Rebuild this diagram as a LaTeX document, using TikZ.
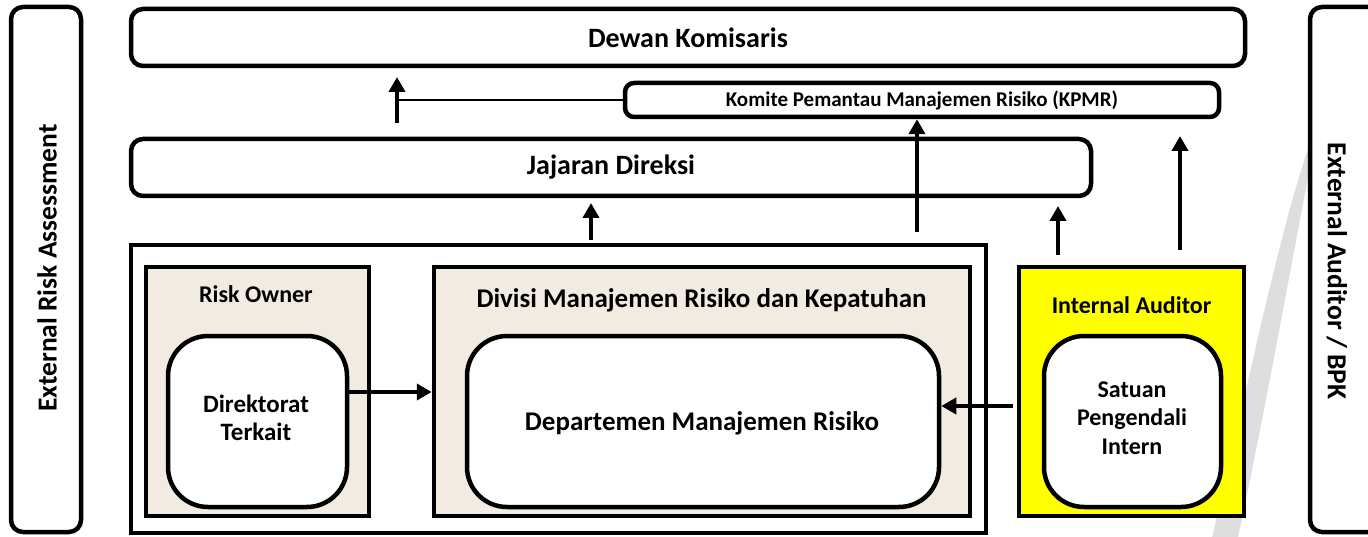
\documentclass[tikz,border=0pt]{standalone}
\usepackage{fontspec}
\setmainfont{Carlito}
\usetikzlibrary{arrows.meta}

\definecolor{beige}{HTML}{F2EBE1}
\definecolor{auditorfill}{HTML}{FFFF00}
\definecolor{wmark}{HTML}{DEDEDE}

\tikzset{
  roundbox/.style={draw, line width=4.5pt, fill=white, rounded corners=12pt, inner sep=0pt},
  plainbox/.style={draw, line width=4pt, fill=white, inner sep=0pt},
  groupbox/.style={draw, line width=4.5pt, fill=beige, inner sep=0pt},
  unitbox/.style={draw, line width=4.5pt, fill=white, rounded corners=40pt, inner sep=0pt, align=center},
  toptxt/.style={font=\fontsize{28}{30}\selectfont\bfseries},
  bigtxt/.style={font=\fontsize{27}{29}\selectfont\bfseries},
  sidetxt/.style={font=\fontsize{27.5}{29}\selectfont\bfseries},
  midtxt/.style={font=\fontsize{24}{28.5}\selectfont\bfseries, align=center},
  unittxt/.style={font=\fontsize{25}{28}\selectfont\bfseries, align=center},
  smalltxt/.style={font=\fontsize{21}{23}\selectfont\bfseries},
  flow/.style={line width=4.5pt, -{Triangle[length=15pt, width=16pt]}},
  link/.style={line width=1.5pt},
}

\begin{document}
\begin{tikzpicture}[x=1pt, y=-1pt]
\useasboundingbox (0,0) rectangle (1368,537);

% faint watermark crescent in the background
\fill[wmark] (1322,110) .. controls (1300,210) and (1272,380) .. (1238,537)
  -- (1212,537) .. controls (1250,380) and (1282,210) .. (1322,110) -- cycle;

% side panels
\node[roundbox, minimum width=70pt, minimum height=525pt] (ext) at (46,269.5) {};
\node[sidetxt, rotate=90] (extlbl) at (47,268) {External Risk Assessment};
\node[roundbox, minimum width=70pt, minimum height=525pt] (bpk) at (1345,269.5) {};
\node[sidetxt, rotate=-90] (bpklbl) at (1337,271) {External Auditor / BPK};

% governance layers
\node[roundbox, minimum width=1114pt, minimum height=57pt, toptxt] (dewan) at (688,37.5) {Dewan Komisaris};
\node[roundbox, rounded corners=9pt, minimum width=594pt, minimum height=34pt, smalltxt] (kpmr) at (922,100) {Komite Pemantau Manajemen Risiko (KPMR)};
\node[roundbox, minimum width=960pt, minimum height=57pt, toptxt] (direksi) at (611,167.5) {Jajaran Direksi};

% operational block
\node[plainbox, minimum width=855pt, minimum height=288pt] (ops) at (558.5,389) {};

\node[groupbox, minimum width=223pt, minimum height=249pt] (owner) at (257.5,391.5) {};
\node[midtxt, anchor=base] (ownerlbl) at (256,302) {Risk Owner};
\node[unitbox, minimum width=179pt, minimum height=171pt] (direktorat) at (257.5,421.5) {};
\node[unittxt, anchor=base] (direktoratlbl) at (256,440) {Direktorat\\Terkait};

\node[groupbox, minimum width=536pt, minimum height=249pt] (divisi) at (702,391.5) {};
\node[bigtxt, anchor=base] (divisilbl) at (701.5,308) {Divisi Manajemen Risiko dan Kepatuhan};
\node[unitbox, minimum width=472pt, minimum height=171pt] (dept) at (703,421.5) {};
\node[bigtxt, anchor=base] (deptlbl) at (702,430) {Departemen Manajemen Risiko};

\node[groupbox, fill=auditorfill, minimum width=225pt, minimum height=249pt] (auditor) at (1131.5,391.5) {};
\node[midtxt, anchor=base] (auditorlbl) at (1131.5,313) {Internal Auditor};
\node[unitbox, minimum width=177pt, minimum height=171pt] (spi) at (1132.5,421.5) {};
\node[midtxt, anchor=base] (spilbl) at (1132,454) {Satuan\\Pengendali\\Intern};

% reporting lines
\coordinate (up1s) at (397,123);
\coordinate (up1e) at (397,77);
\draw[flow] (up1s) -- (up1e);
\draw[link] (kpmr.west) -- (kpmr.west -| up1s);

\coordinate (up2s) at (591,240);
\coordinate (up2e) at (591,203);
\draw[flow] (up2s) -- (up2e);

\coordinate (up3s) at (917,232);
\draw[flow] (up3s) -- (kpmr.south -| up3s);

\coordinate (up4s) at (1058,255);
\coordinate (up4e) at (1058,206);
\draw[flow] (up4s) -- (up4e);

\coordinate (up5s) at (1180,250);
\coordinate (up5e) at (1180,136);
\draw[flow] (up5s) -- (up5e);

\coordinate (h1) at (0,392);
\draw[flow] (direktorat.east |- h1) -- (divisi.west |- h1);

\coordinate (h2) at (0,406);
\coordinate (h2s) at (1013,406);
\draw[flow] (h2s) -- (dept.east |- h2);
\end{tikzpicture}
\end{document}
